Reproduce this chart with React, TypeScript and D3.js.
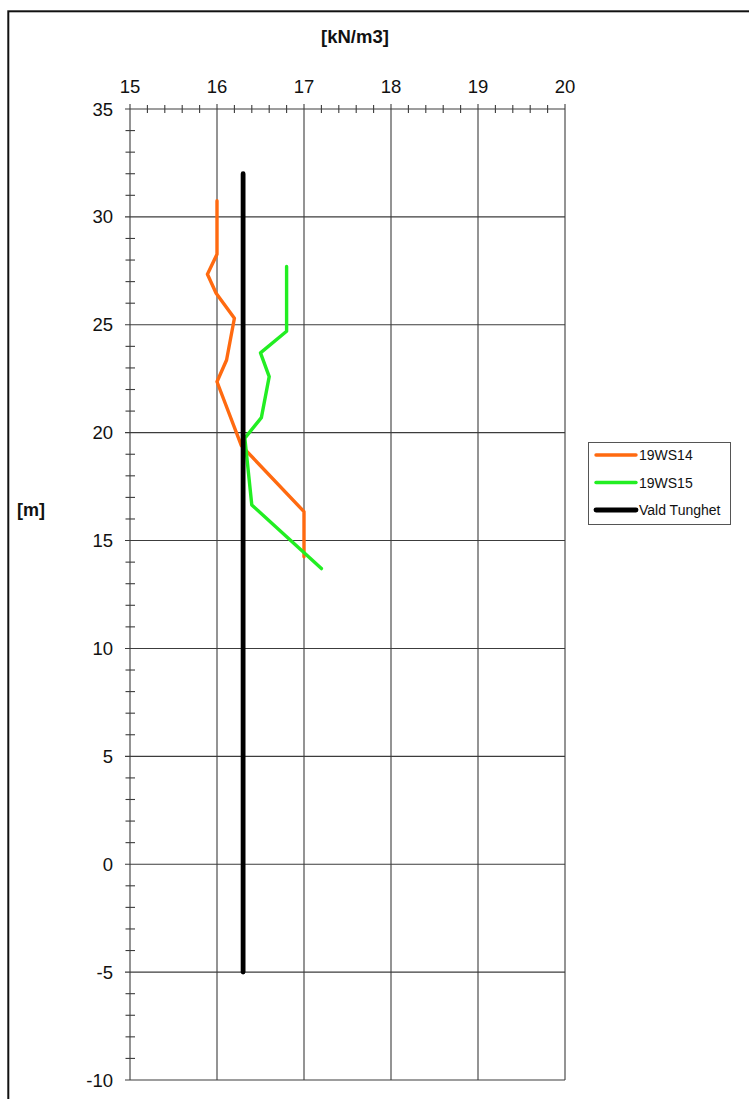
import React from "react";
import * as d3 from "d3";

// Unit weight profiles: depth level [m] vs unit weight [kN/m3]
const ws14Level = [30.75, 28.27, 27.34, 26.46, 25.3, 23.37, 22.36, 19.4, 16.34, 14.25];
const ws14Weight = [16.0, 16.0, 15.89, 15.99, 16.2, 16.11, 16.0, 16.28, 17.0, 17.0];

const ws15Level = [27.7, 24.7, 23.7, 22.6, 20.7, 19.75, 16.65, 13.7];
const ws15Weight = [16.8, 16.8, 16.5, 16.6, 16.51, 16.32, 16.4, 17.2];

const chosenLevel = [32, -5];
const chosenWeight = [16.3, 16.3];

const seriesNames = ["19WS14", "19WS15", "Vald Tunghet"];
const seriesColors = ["#ff6a10", "#22ee22", "#000000"];
const seriesWidths = [3.4, 3.4, 4.8];

const xDomain: [number, number] = [15, 20];
const yDomain: [number, number] = [-10, 35];

const W = 749;
const H = 1099;
const left = 130;
const right = 565;
const top = 109;
const bottom = 1080;

const font = "'Liberation Sans', Arial, sans-serif";

export default function App() {
  const x = d3.scaleLinear().domain(xDomain).range([left, right]);
  const y = d3.scaleLinear().domain(yDomain).range([bottom, top]);

  const xMajor = d3.range(15, 20.001, 1);
  const xMinor = d3.range(15, 20.001, 0.2).filter((v) => Math.abs(v - Math.round(v)) > 1e-6);
  const yMajor = d3.range(-10, 35.001, 5);
  const yMinor = d3.range(-10, 35.001, 1).filter((v) => v % 5 !== 0);

  const line = d3
    .line<[number, number]>()
    .x((d) => x(d[0]))
    .y((d) => y(d[1]));

  const series: [number, number][][] = [
    ws14Weight.map((w, i) => [w, ws14Level[i]]),
    ws15Weight.map((w, i) => [w, ws15Level[i]]),
    chosenWeight.map((w, i) => [w, chosenLevel[i]]),
  ];

  const grid = "#3c3c3c";

  return (
    <div style={{ position: "absolute", left: 0, top: 0, width: W, height: H, overflow: "hidden", background: "#fff" }}>
      <svg width={W} height={H} style={{ display: "block" }} fontFamily={font}>
        <rect x={0} y={0} width={W} height={H} fill="#fff" />
        {/* outer frame */}
        <rect x={8.3} y={11.3} width={W + 20} height={H + 20} fill="none" stroke="#111" strokeWidth={2} />

        {/* vertical grid lines */}
        {xMajor.map((v) => (
          <line key={"gx" + v} x1={x(v)} x2={x(v)} y1={top - 5} y2={bottom} stroke={grid} strokeWidth={1.1} />
        ))}
        {/* horizontal grid lines */}
        {yMajor.map((v) => (
          <line key={"gy" + v} x1={left - 5} x2={right} y1={y(v)} y2={y(v)} stroke={grid} strokeWidth={1.1} />
        ))}
        {/* minor ticks top axis */}
        {xMinor.map((v) => (
          <line key={"mx" + v} x1={x(v)} x2={x(v)} y1={top - 4} y2={top + 4} stroke={grid} strokeWidth={1.1} />
        ))}
        {/* minor ticks left axis */}
        {yMinor.map((v) => (
          <line key={"my" + v} x1={left - 4.5} x2={left + 5} y1={y(v)} y2={y(v)} stroke={grid} strokeWidth={1.1} />
        ))}

        {/* tick labels */}
        {xMajor.map((v) => (
          <text key={"tx" + v} x={x(v)} y={93} fontSize={18.5} textAnchor="middle" fill="#111">
            {v}
          </text>
        ))}
        {yMajor.map((v) => (
          <text key={"ty" + v} x={113} y={y(v) + 6.5} fontSize={18.5} textAnchor="end" fill="#111">
            {v}
          </text>
        ))}

        {/* axis titles */}
        <text x={355} y={43} fontSize={18.5} fontWeight="bold" textAnchor="middle" fill="#111">
          [kN/m3]
        </text>
        <text x={17} y={516} fontSize={18} fontWeight="bold" fill="#111">
          [m]
        </text>

        {/* data series */}
        {series.map((s, i) => (
          <path
            key={"s" + i}
            d={line(s) || ""}
            fill="none"
            stroke={seriesColors[i]}
            strokeWidth={seriesWidths[i]}
            strokeLinejoin="round"
            strokeLinecap="round"
          />
        ))}

        {/* legend */}
        <rect x={588.5} y={442.5} width={142} height={82} fill="#fff" stroke="#555" strokeWidth={1} />
        {seriesNames.map((name, i) => {
          const ly = 455 + i * 27.5;
          return (
            <g key={"lg" + i}>
              <line x1={596} x2={636} y1={ly} y2={ly} stroke={seriesColors[i]} strokeWidth={seriesWidths[i]} strokeLinecap="round" />
              <text x={639} y={ly + 5} fontSize={14} fill="#111">
                {name}
              </text>
            </g>
          );
        })}
      </svg>
    </div>
  );
}
